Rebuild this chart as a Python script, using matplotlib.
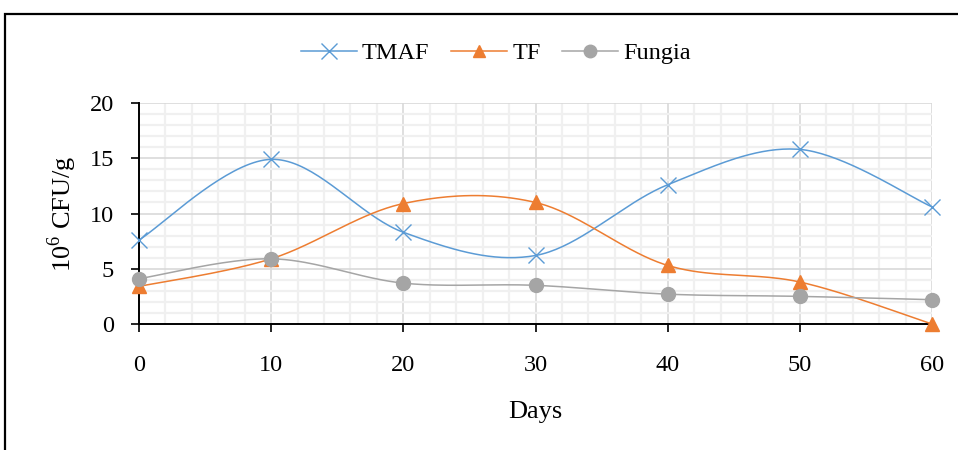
import numpy as np
import matplotlib
matplotlib.use("Agg")
import matplotlib.pyplot as plt
from matplotlib.patches import Rectangle
from matplotlib.lines import Line2D

days = [0, 10, 20, 30, 40, 50, 60]
tmaf = [7.6, 14.9, 8.3, 6.2, 12.6, 15.8, 10.6]
tf = [3.4, 5.9, 10.9, 11.0, 5.3, 3.8, 0.0]
fungia = [4.1, 5.9, 3.7, 3.5, 2.7, 2.5, 2.2]

series_names = ["TMAF", "TF", "Fungia"]
colors = ["#5B9BD5", "#ED7D31", "#A5A5A5"]
markers = ["x", "^", "o"]
msizes = [10, 10, 10]


def smooth(x, y, n=40):
    x = np.asarray(x, float)
    y = np.asarray(y, float)
    P = np.column_stack([x, y])
    out = []
    for i in range(len(P) - 1):
        p0 = P[i - 1] if i > 0 else P[i]
        p1 = P[i]
        p2 = P[i + 1]
        p3 = P[i + 2] if i + 2 < len(P) else P[i + 1]
        c1 = p1 + (p2 - p0) / 6.0
        c2 = p2 - (p3 - p1) / 6.0
        t = np.linspace(0, 1, n)[:, None]
        b = ((1 - t) ** 3) * p1 + 3 * ((1 - t) ** 2) * t * c1 + 3 * (1 - t) * t ** 2 * c2 + t ** 3 * p2
        out.append(b if i == 0 else b[1:])
    B = np.vstack(out)
    return B[:, 0], B[:, 1]


plt.rcParams["font.family"] = ["Liberation Serif", "DejaVu Serif"]
plt.rcParams["mathtext.fontset"] = "custom"
plt.rcParams["mathtext.rm"] = "Liberation Serif"
fig = plt.figure(figsize=(9.58, 4.5), dpi=100)
ax = fig.add_axes([139 / 958, 1 - 324 / 450, (932 - 139) / 958, (324 - 103) / 450])

# frame around the chart (cropped at right and bottom)
fig.patches.append(Rectangle((5 / 958, -0.1), 1.2, 1 - 14 / 450 + 0.1, transform=fig.transFigure,
                             fill=False, edgecolor="black", linewidth=1.6))

ax.set_xlim(0, 60)
ax.set_ylim(0, 20)
ax.set_xticks(range(0, 61, 10))
ax.set_yticks(range(0, 21, 5))
ax.set_xticks(range(0, 61, 2), minor=True)
ax.set_yticks(range(0, 21, 1), minor=True)
ax.grid(which="minor", color="#F0F0F0", linewidth=1.6, zorder=0)
ax.grid(which="major", color="#D9D9D9", linewidth=1.2, zorder=0)
ax.tick_params(which="minor", length=0)
ax.tick_params(which="major", length=6, width=1.2, color="black", labelsize=17.5)
ax.tick_params(axis="x", pad=16)
ax.tick_params(axis="y", pad=12)
for s in ["top", "right"]:
    ax.spines[s].set_visible(False)
for s in ["left", "bottom"]:
    ax.spines[s].set_color("black")
    ax.spines[s].set_linewidth(1.4)
ax.set_axisbelow(True)

data = [tmaf, tf, fungia]
handles = []
for name, vals, c, m, ms in zip(series_names, data, colors, markers, msizes):
    sx, sy = smooth(days, vals)
    ax.plot(sx, sy, color=c, linewidth=1.1, zorder=3, clip_on=False)
    if m == "x":
        ax.plot(days, vals, linestyle="none", marker=m, markersize=ms + 2, markeredgewidth=1.0,
                color=c, zorder=4, clip_on=False)
    else:
        ax.plot(days, vals, linestyle="none", marker=m, markersize=ms, color=c, markeredgecolor=c,
                zorder=4, clip_on=False)
    handles.append(Line2D([0], [0], color=c, linewidth=1.1, marker=m,
                          markersize=(ms + 1 if m == "x" else ms - 1), markeredgewidth=1.0,
                          markerfacecolor=c, markeredgecolor=c, label=name))

fig.legend(handles=handles, loc="center", bbox_to_anchor=(496 / 958, 1 - 53 / 450), ncol=3,
           frameon=False, fontsize=17.5, handlelength=2.3, handletextpad=0.2, columnspacing=0.9)

ax.set_xlabel("Days", fontsize=19, labelpad=18)
ax.set_ylabel("10$^{6}$ CFU/g", fontsize=19, labelpad=8)

fig.savefig("out.png", dpi=100)
